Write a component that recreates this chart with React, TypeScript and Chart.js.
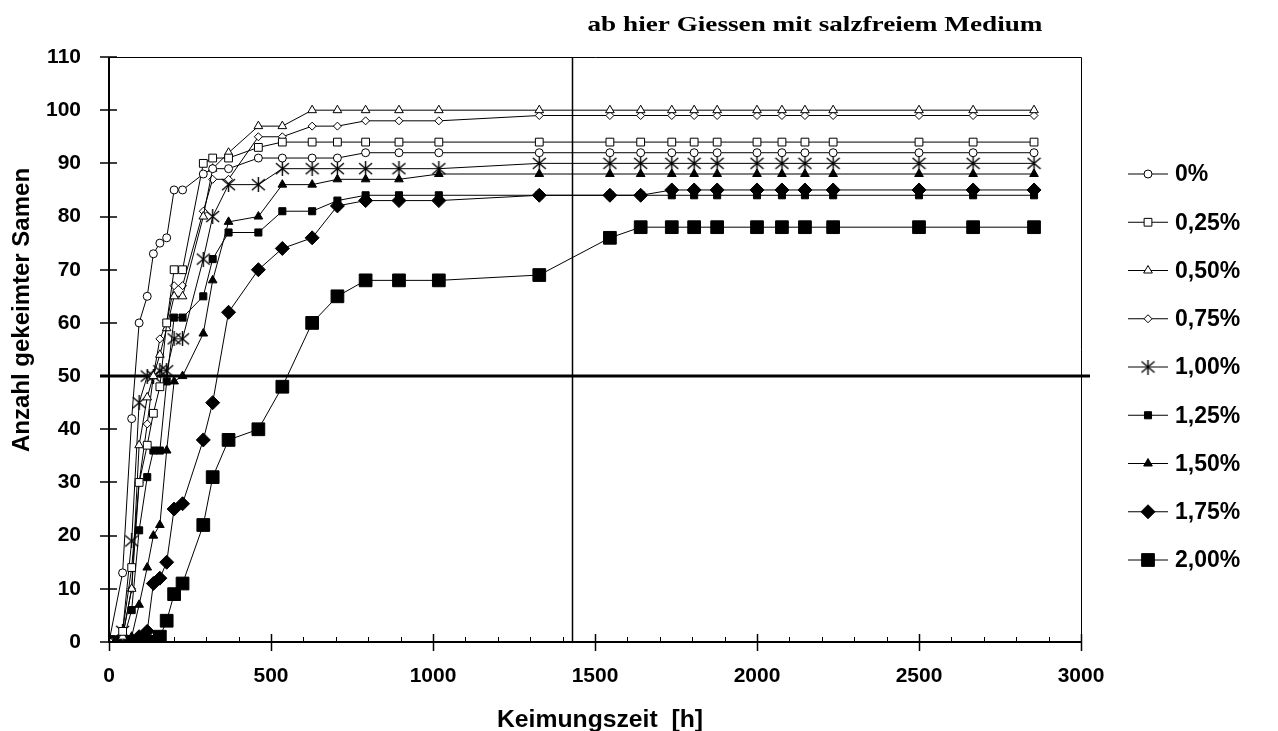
import React, { useEffect, useRef } from "react";
import { Chart, registerables } from "chart.js";
import { drawPoint } from "chart.js/helpers";

Chart.register(...registerables);

// Germination time in hours
const hours = [0, 42, 70, 93, 118, 137, 157, 178, 201, 227, 291, 320, 369, 461, 535, 627, 705, 792, 895, 1018, 1328, 1546, 1641, 1737, 1806, 1877, 2000, 2077, 2148, 2235, 2500, 2667, 2855];

// Number of germinated seeds per salt concentration
const salt000 = [0, 13, 42, 60, 65, 73, 75, 76, 85, 85, 88, 89, 89, 91, 91, 91, 91, 92, 92, 92, 92, 92, 92, 92, 92, 92, 92, 92, 92, 92, 92, 92, 92];
const salt025 = [0, 2, 14, 30, 37, 43, 48, 60, 70, 70, 90, 91, 91, 93, 94, 94, 94, 94, 94, 94, 94, 94, 94, 94, 94, 94, 94, 94, 94, 94, 94, 94, 94];
const salt050 = [0, 1, 10, 37, 46, 50, 54, 59, 65, 65, 80, 89, 92, 97, 97, 100, 100, 100, 100, 100, 100, 100, 100, 100, 100, 100, 100, 100, 100, 100, 100, 100, 100];
const salt075 = [0, 1, 10, 30, 41, 50, 57, 60, 67, 67, 81, 87, 87, 95, 95, 97, 97, 98, 98, 98, 99, 99, 99, 99, 99, 99, 99, 99, 99, 99, 99, 99, 99];
const salt100 = [0, 2, 19, 45, 50, 50, 51, 51, 57, 57, 72, 80, 86, 86, 89, 89, 89, 89, 89, 89, 90, 90, 90, 90, 90, 90, 90, 90, 90, 90, 90, 90, 90];
const salt125 = [0, 0, 6, 21, 31, 36, 36, 49, 61, 61, 65, 72, 77, 77, 81, 81, 83, 84, 84, 84, 84, 84, 84, 84, 84, 84, 84, 84, 84, 84, 84, 84, 84];
const salt150 = [0, 0, 1, 7, 14, 20, 22, 36, 49, 50, 58, 68, 79, 80, 86, 86, 87, 87, 87, 88, 88, 88, 88, 88, 88, 88, 88, 88, 88, 88, 88, 88, 88];
const salt175 = [0, 0, 0, 1, 2, 11, 12, 15, 25, 26, 38, 45, 62, 70, 74, 76, 82, 83, 83, 83, 84, 84, 84, 85, 85, 85, 85, 85, 85, 85, 85, 85, 85];
const salt200 = [0, 0, 0, 0, 0, 0, 1, 4, 9, 11, 22, 31, 38, 40, 48, 60, 65, 68, 68, 68, 69, 76, 78, 78, 78, 78, 78, 78, 78, 78, 78, 78, 78];

const seriesLabels = ["0%", "0,25%", "0,50%", "0,75%", "1,00%", "1,25%", "1,50%", "1,75%", "2,00%"];
const seriesValues = [salt000, salt025, salt050, salt075, salt100, salt125, salt150, salt175, salt200];

// Reference marks: 50 % germination and the switch to salt-free watering
const halfLine = 50;
const switchHour = 1430;

const annotationText = "ab hier Giessen mit salzfreiem Medium";
const yTitle = "Anzahl gekeimter Samen";
const xTitle = "Keimungszeit  [h]";

const SANS = "'Liberation Sans', Arial, sans-serif";
const SERIF = "'Liberation Serif', 'Times New Roman', serif";

function makeAsterisk(): HTMLCanvasElement {
  const c = document.createElement("canvas");
  c.width = 15;
  c.height = 15;
  const g = c.getContext("2d")!;
  g.strokeStyle = "#000";
  g.lineWidth = 1.4;
  g.beginPath();
  g.moveTo(7.5, 0);
  g.lineTo(7.5, 15);
  g.moveTo(1, 2);
  g.lineTo(14, 13);
  g.moveTo(14, 2);
  g.lineTo(1, 13);
  g.stroke();
  return c;
}

// Draws text horizontally stretched to a given width, centred on cx
function wideText(ctx: CanvasRenderingContext2D, text: string, cx: number, y: number, width: number) {
  const natural = ctx.measureText(text).width;
  ctx.save();
  ctx.translate(cx, y);
  ctx.scale(width / natural, 1);
  ctx.textAlign = "center";
  ctx.fillText(text, 0, 0);
  ctx.restore();
}

export default function App() {
  const ref = useRef<HTMLCanvasElement>(null);

  useEffect(() => {
    const canvas = ref.current!;
    const asterisk = makeAsterisk();

    const markers: { pointStyle: any; radius: number; fill: string }[] = [
      { pointStyle: "circle", radius: 4, fill: "#fff" },
      { pointStyle: "rect", radius: 5.5, fill: "#fff" },
      { pointStyle: "triangle", radius: 5, fill: "#fff" },
      { pointStyle: "rectRot", radius: 4, fill: "#fff" },
      { pointStyle: asterisk, radius: 7, fill: "#000" },
      { pointStyle: "rect", radius: 5, fill: "#000" },
      { pointStyle: "triangle", radius: 5, fill: "#000" },
      { pointStyle: "rectRot", radius: 7, fill: "#000" },
      { pointStyle: "rect", radius: 9, fill: "#000" },
    ];

    const datasets = seriesValues.map((vals, i) => ({
      label: seriesLabels[i],
      data: vals.map((v, k) => ({ x: hours[k], y: v })),
      borderColor: "#000",
      borderWidth: 1,
      pointStyle: markers[i].pointStyle,
      pointRadius: markers[i].radius,
      pointBackgroundColor: markers[i].fill,
      pointBorderColor: "#000",
      pointBorderWidth: 1,
      fill: false,
      tension: 0,
    }));

    const framePlugin = {
      id: "frame",
      beforeDatasetsDraw(chart: any) {
        const ctx = chart.ctx;
        const { left, right, top, bottom } = chart.chartArea;
        const xs = chart.scales.x;
        const ys = chart.scales.y;
        ctx.save();
        ctx.strokeStyle = "#000";
        // top and right frame
        ctx.lineWidth = 1;
        ctx.beginPath();
        ctx.moveTo(left, top + 0.5);
        ctx.lineTo(right + 0.5, top + 0.5);
        ctx.lineTo(right + 0.5, bottom);
        ctx.stroke();
        // 50 % line
        const py = ys.getPixelForValue(halfLine);
        ctx.lineWidth = 3;
        ctx.beginPath();
        ctx.moveTo(left - 9, py);
        ctx.lineTo(right + 9, py);
        ctx.stroke();
        // watering switch
        const px = Math.round(xs.getPixelForValue(switchHour)) + 0.5;
        ctx.lineWidth = 1.5;
        ctx.beginPath();
        ctx.moveTo(px, top);
        ctx.lineTo(px, bottom);
        ctx.stroke();
        ctx.restore();
      },
      afterDraw(chart: any) {
        const ctx = chart.ctx;
        const { left, right, top, bottom } = chart.chartArea;
        const xs = chart.scales.x;
        const ys = chart.scales.y;
        ctx.save();
        ctx.strokeStyle = "#000";
        // axes
        ctx.lineWidth = 2;
        ctx.beginPath();
        ctx.moveTo(left, top);
        ctx.lineTo(left, bottom);
        ctx.lineTo(right + 1, bottom);
        ctx.stroke();
        // y ticks, crossing the axis
        ctx.lineWidth = 1.5;
        ctx.beginPath();
        ys.ticks.forEach((t: any) => {
          const y = Math.round(ys.getPixelForValue(t.value));
          ctx.moveTo(left - 9, y);
          ctx.lineTo(left + 8, y);
        });
        ctx.stroke();
        // x major ticks
        ctx.beginPath();
        xs.ticks.forEach((t: any) => {
          const x = Math.round(xs.getPixelForValue(t.value)) + 0.5;
          ctx.moveTo(x, bottom - 8);
          ctx.lineTo(x, bottom + 9);
        });
        ctx.stroke();
        // x minor ticks every 100 h
        ctx.lineWidth = 1;
        ctx.beginPath();
        for (let h = 100; h < xs.max; h += 100) {
          if (h % 500 === 0) continue;
          const x = Math.round(xs.getPixelForValue(h)) + 0.5;
          ctx.moveTo(x, bottom - 5);
          ctx.lineTo(x, bottom);
        }
        ctx.stroke();

        // axis titles
        ctx.fillStyle = "#000";
        ctx.textBaseline = "alphabetic";
        ctx.font = `bold 23px ${SANS}`;
        wideText(ctx, xTitle, 600, 727, 206);
        ctx.save();
        ctx.translate(22, 310);
        ctx.rotate(-Math.PI / 2);
        ctx.font = `bold 24px ${SANS}`;
        ctx.textAlign = "center";
        ctx.textBaseline = "middle";
        ctx.fillText(yTitle, 0, 0);
        ctx.restore();

        // note above the switch line
        ctx.font = `bold 22px ${SERIF}`;
        ctx.textBaseline = "alphabetic";
        wideText(ctx, annotationText, 815, 31, 455);

        // legend
        const lx0 = 1128;
        const lx1 = 1168;
        ctx.font = `bold 23px ${SANS}`;
        ctx.textAlign = "left";
        ctx.textBaseline = "middle";
        seriesLabels.forEach((label, i) => {
          const y = 174 + i * 48.25;
          ctx.lineWidth = 1;
          ctx.strokeStyle = "#000";
          ctx.beginPath();
          ctx.moveTo(lx0, y);
          ctx.lineTo(lx1, y);
          ctx.stroke();
          ctx.fillStyle = markers[i].fill;
          drawPoint(ctx, { pointStyle: markers[i].pointStyle, radius: markers[i].radius, rotation: 0, borderWidth: 1 } as any, (lx0 + lx1) / 2, y);
          ctx.fillStyle = "#000";
          ctx.fillText(label, 1175, y + 1);
        });
        ctx.restore();
      },
    };

    const chart = new Chart(canvas, {
      type: "line",
      data: { datasets: datasets as any },
      options: {
        responsive: false,
        animation: false,
        devicePixelRatio: 1,
        layout: { padding: { top: 57, right: 197, left: 0, bottom: 0 } },
        plugins: { legend: { display: false }, tooltip: { enabled: false } },
        scales: {
          x: {
            type: "linear",
            min: 0,
            max: 3000,
            ticks: {
              stepSize: 500,
              color: "#000",
              padding: 22,
              maxRotation: 0,
              callback: (v: any) => String(v),
              font: { family: SANS, size: 21, weight: "bold" },
            },
            grid: { display: true, drawOnChartArea: false, drawTicks: false, color: "rgba(0,0,0,0)" },
            border: { display: false },
            afterFit: (s: any) => {
              s.height = 89;
            },
          },
          y: {
            min: 0,
            max: 110,
            ticks: {
              stepSize: 10,
              color: "#000",
              padding: 28,
              callback: (v: any) => String(v),
              font: { family: SANS, size: 21, weight: "bold" },
            },
            grid: { display: true, drawOnChartArea: false, drawTicks: false, color: "rgba(0,0,0,0)" },
            border: { display: false },
            afterFit: (s: any) => {
              s.width = 109;
            },
          },
        },
      },
      plugins: [framePlugin],
    });

    return () => chart.destroy();
  }, []);

  return (
    <div style={{ position: "fixed", left: 0, top: 0, width: 1278, height: 731, background: "#fff" }}>
      <canvas ref={ref} width={1278} height={731} style={{ display: "block" }} />
    </div>
  );
}
